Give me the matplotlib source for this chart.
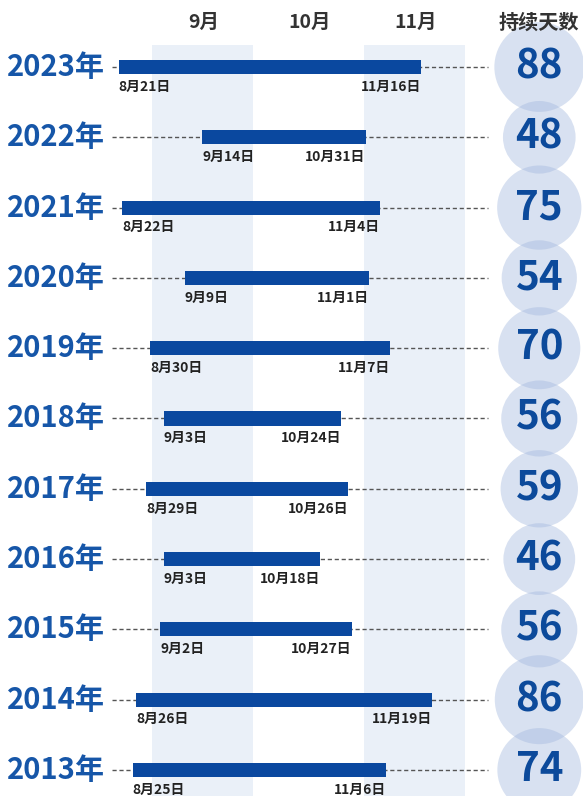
import datetime as dt
import matplotlib.pyplot as plt

plt.rcParams['font.family'] = ['Noto Sans CJK SC', 'DejaVu Sans']

years = ["2023年", "2022年", "2021年", "2020年", "2019年", "2018年",
         "2017年", "2016年", "2015年", "2014年", "2013年"]
starts = [(8, 21), (9, 14), (8, 22), (9, 9), (8, 30), (9, 3),
          (8, 29), (9, 3), (9, 2), (8, 26), (8, 25)]
ends = [(11, 16), (10, 31), (11, 4), (11, 1), (11, 7), (10, 24),
        (10, 26), (10, 18), (10, 27), (11, 19), (11, 6)]
days = [88, 48, 75, 54, 70, 56, 59, 46, 56, 86, 74]
months = [9, 10, 11]
month_labels = ["9月", "10月", "11月"]
days_title = "持续天数"

BAR = "#0a489f"
YEAR_C = "#1656a8"
NUM_C = "#0c4a9b"
SHADE = "#eaf0f8"


def day(m, d):
    # days since Aug 1 (same reference year for every row)
    return (dt.date(2001, m, d) - dt.date(2001, 8, 1)).days


fig = plt.figure(figsize=(5.83, 7.96), dpi=100)
ax = fig.add_axes([0, 0, 1, 1])
yt = ax.get_yaxis_transform()

# month columns, every other one shaded
for k, m in enumerate(months):
    m0 = day(m, 1)
    m1 = day(m + 1, 1)
    if k % 2 == 0:
        ax.axvspan(m0 - 1.5, m1 - 2.5, ymin=0, ymax=1 - 45 / 796, color=SHADE, lw=0, zorder=0)
    ax.text((m0 + m1) / 2 - 1.5, -0.64, month_labels[k], ha="center", va="center",
            fontsize=14, fontweight="bold", color="#333333")

ax.text(0.925, -0.64, days_title, transform=yt, ha="center", va="center",
        fontsize=14.5, fontweight="bold", color="#333333", zorder=5)

# circles for duration
rows = list(range(len(years)))
sizes = [(2 * (26 + 0.215 * d) * 0.72) ** 2 for d in days]
ax.scatter([0.925] * len(rows), rows, s=sizes, transform=yt, color="#a3b8de",
           alpha=0.42, linewidths=0, zorder=1)

for i, yr in enumerate(years):
    s = day(*starts[i])
    e = day(*ends[i])
    ax.plot([0.192, 0.837], [i, i], transform=yt, color="#555555", lw=1.0,
            ls=(0, (3, 2)), zorder=2)
    ax.barh(i, e - s, left=s, height=0.2, color=BAR, zorder=3)
    ax.text(0.18, i, yr, transform=yt, ha="right", va="center", fontsize=21,
            fontweight="bold", color=YEAR_C)
    ax.text(s, i + 0.28, f"{starts[i][0]}月{starts[i][1]}日", ha="left", va="center",
            fontsize=10, fontweight="bold", color="#222222", zorder=4)
    ax.text(e, i + 0.28, f"{ends[i][0]}月{ends[i][1]}日", ha="right", va="center",
            fontsize=10, fontweight="bold", color="#222222", zorder=4)
    ax.text(0.925, i, str(days[i]), transform=yt, ha="center", va="center",
            fontsize=29, fontweight="bold", color=NUM_C, zorder=4)

ax.set_xlim(-14.1, 153.5)
ax.set_ylim(10.37, -0.953)
ax.axis("off")

fig.savefig("out.png", dpi=100)
